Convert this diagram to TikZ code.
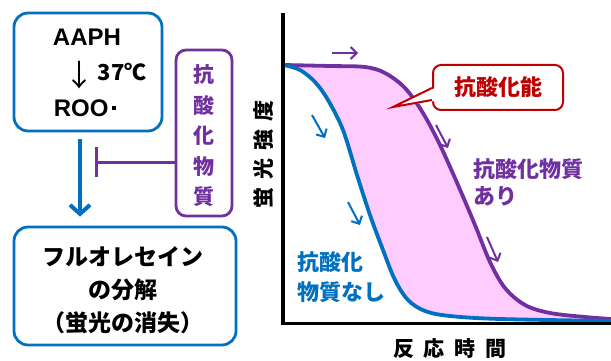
\documentclass[tikz,border=0pt]{standalone}
\usepackage{fontspec}
\setmainfont{Liberation Sans}
\newfontfamily\jp{Noto Sans CJK JP}
\usetikzlibrary{arrows.meta}
\definecolor{blueC}{HTML}{0070C0}
\definecolor{purpC}{HTML}{7030A0}
\definecolor{redC}{HTML}{C00000}
\definecolor{pinkC}{HTML}{FFCCFF}
\tikzset{
  box/.style={draw, line width=2.8pt, rounded corners=14pt, inner sep=0pt},
  jtxt/.style={font=\jp\bfseries\fontsize{22}{26}\selectfont, inner sep=0pt},
  ltxt/.style={font=\bfseries\fontsize{24}{28}\selectfont, inner sep=0pt},
  smallarr/.style={line width=2pt, -{Straight Barb[length=6pt,width=12pt]}},
  curve/.style={line width=3.8pt, line join=round}
}
\begin{document}
\begin{tikzpicture}[x=1pt,y=-1pt]
\useasboundingbox (0,0) rectangle (611,361);
% left boxes
\node[box, draw=blueC, minimum width=148pt, minimum height=118pt] (src) at (88,72) {};
\node[ltxt] (aaph) at (87,37) {AAPH};
\node[font=\jp\fontsize{30}{32}\selectfont, inner sep=0pt] (dn) at (79,75) {↓};
\node[ltxt, font=\jp\bfseries\fontsize{22}{26}\selectfont] (temp) at (122,72) {37℃};
\node[ltxt] (roo) at (85,108) {ROO\hspace{3pt}\raisebox{6pt}{\rule{4.5pt}{4.5pt}}};
\node[box, draw=blueC, minimum width=222pt, minimum height=118pt] (fl) at (125,286) {};
\node[jtxt, font=\jp\bfseries\fontsize{23}{33}\selectfont, align=center] (fltxt) at (123,290) {フルオレセイン\\の分解\\（蛍光の消失）};
\draw[blueC, line width=4pt, -{Straight Barb[length=9pt,width=20pt]}] ([xshift=-8pt,yshift=-7pt]src.south) -- ([xshift=-45pt,yshift=9pt]fl.north);
\node[box, draw=purpC, rounded corners=10pt, minimum width=56pt, minimum height=166pt] (aox) at (204,133) {};
\node[jtxt, text=purpC, font=\jp\bfseries\fontsize{21}{30.5}\selectfont, align=center] (aoxtxt) at (204,136) {抗\\酸\\化\\物\\質};
\coordinate (inh) at (95,162);
\draw[purpC, line width=3pt, -{Bar[width=30pt]}] ([yshift=-29pt]aox.west) -- (inh);
% graph
\fill[pinkC] plot[smooth, tension=0.55] coordinates {(284,65) (330,66) (365,67) (385,73) (405,88) (423,113) (440,145) (458,185) (475,225) (490,262) (505,288) (525,305) (550,313) (585,317) (611,319)}
  -- plot[smooth, tension=0.55] coordinates {(611,321) (500,319) (450,316) (425,311) (408,300) (395,280) (383,250) (370,215) (357,175) (343,130) (328,100) (315,82) (300,70) (284,65)} -- cycle;
\draw[purpC, curve] plot[smooth, tension=0.55] coordinates {(284,65) (330,66) (365,67) (385,73) (405,88) (423,113) (440,145) (458,185) (475,225) (490,262) (505,288) (525,305) (550,313) (585,317) (611,319)};
\draw[blueC, curve] plot[smooth, tension=0.55] coordinates {(284,65) (300,70) (315,82) (328,100) (343,130) (357,175) (370,215) (383,250) (395,280) (408,300) (425,311) (450,316) (500,319) (611,321)};
\coordinate (ytop) at (283,13);
\coordinate (orig) at (283,323.5);
\coordinate (xend) at (611,323.5);
\draw[black, line width=3.5pt] (ytop) -- (orig) -- (xend);
\node[jtxt, font=\jp\bfseries\fontsize{21}{24}\selectfont, rotate=90] (ylab) at (264,154) {蛍\hspace{8pt}光\hspace{8pt}強\hspace{8pt}度};
\node[jtxt, font=\jp\bfseries\fontsize{21}{24}\selectfont] (xlab) at (450,349) {反\hspace{10pt}応\hspace{10pt}時\hspace{10pt}間};
% small arrows
\coordinate (pa1) at (332,53); \coordinate (pa1e) at (358,53);
\coordinate (pa2) at (436,125); \coordinate (pa2e) at (448,148);
\coordinate (pa3) at (487,237); \coordinate (pa3e) at (498,262);
\coordinate (ba1) at (312,115); \coordinate (ba1e) at (325,138);
\coordinate (ba2) at (348,202); \coordinate (ba2e) at (360,225);
\draw[purpC, smallarr] (pa1) -- (pa1e);
\draw[purpC, smallarr] (pa2) -- (pa2e);
\draw[purpC, smallarr] (pa3) -- (pa3e);
\draw[blueC, smallarr] (ba1) -- (ba1e);
\draw[blueC, smallarr] (ba2) -- (ba2e);
% labels
\node[jtxt, text=purpC, align=left, anchor=north west, font=\jp\bfseries\fontsize{22}{27}\selectfont] (withA) at (473,158) {抗酸化物質\\あり};
\node[jtxt, text=blueC, align=left, anchor=north west, font=\jp\bfseries\fontsize{22}{30}\selectfont] (noA) at (297,251) {抗酸化\\物質なし};
% callout
\node[draw=redC, line width=2pt, fill=white, rounded corners=8pt, minimum width=130pt, minimum height=45pt, text=redC, font=\jp\bfseries\fontsize{22}{26}\selectfont] (cb) at (498,87.5) {抗酸化能};
\coordinate (tip) at (393,107);
\fill[white] ([xshift=3pt,yshift=-0.5pt]cb.west) -- (tip) -- ([xshift=3pt,yshift=-13.5pt]cb.west) -- cycle;
\draw[redC, line width=2pt, line join=miter] ([yshift=-0.5pt]cb.west) -- (tip) -- ([yshift=-12.5pt]cb.west);
\end{tikzpicture}
\end{document}
